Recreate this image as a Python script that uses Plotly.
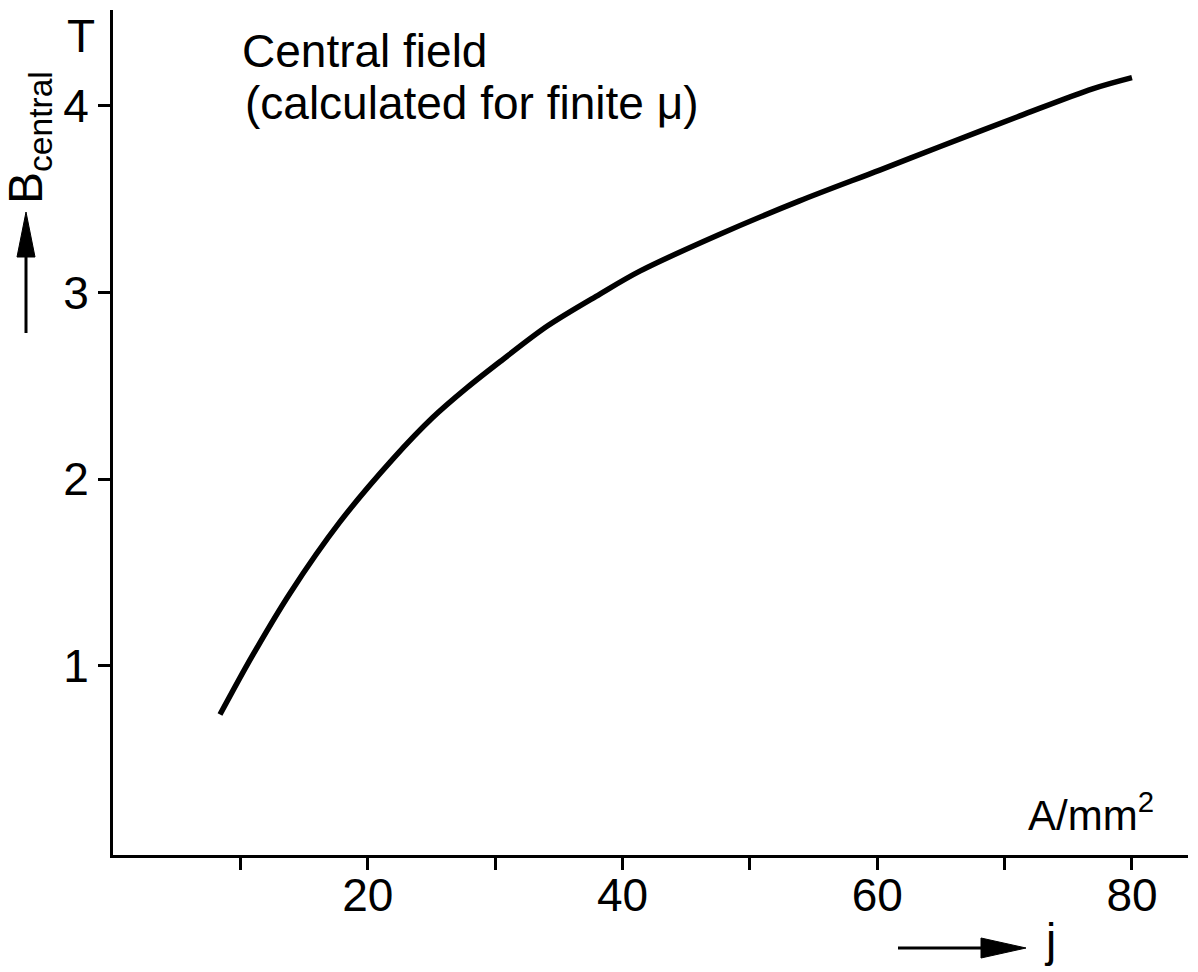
import plotly.graph_objects as go

# Data
current_density = [8.4, 10.9, 13.9, 17.8, 22.0, 25.1, 27.8, 30.4, 34.1, 38.2,
                   41.4, 47.6, 53.9, 60.2, 64.9, 71.2, 76.9, 80.0]   # A/mm^2
b_central = [0.74, 1.05, 1.39, 1.77, 2.11, 2.33, 2.49, 2.63, 2.82, 2.99,
             3.115, 3.31, 3.49, 3.655, 3.78, 3.945, 4.09, 4.15]       # T

x_major_ticks = [20, 40, 60, 80]
x_minor_ticks = [10, 30, 50, 70]
y_tickvals = [1, 2, 3, 4]

W, H = 1198, 972
L, R, T, B = 113, 10, 10, 117
PW, PH = W - L - R, H - T - B


def px(x):
    return (x - L) / PW


def py(y):
    return (H - B - y) / PH


SANS = "Liberation Sans, Arial, sans-serif"

fig = go.Figure()
fig.add_trace(go.Scatter(
    x=current_density, y=b_central, mode="lines",
    line=dict(color="black", width=5.5, shape="spline", smoothing=0.9),
    showlegend=False, hoverinfo="skip",
))

fig.update_layout(
    width=W, height=H,
    margin=dict(l=L, r=R, t=T, b=B, pad=0),
    paper_bgcolor="white", plot_bgcolor="white",
    xaxis=dict(range=[0, 84.4], showgrid=False, zeroline=False,
               showline=True, linecolor="black", linewidth=3,
               ticks="outside", ticklen=12, tickwidth=2.5, tickcolor="black",
               tickvals=x_major_ticks, ticklabelstandoff=-14,
               minor=dict(tickvals=x_minor_ticks, ticks="outside", ticklen=12,
                          tickwidth=2.5, tickcolor="black", showgrid=False),
               tickfont=dict(family=SANS, size=46, color="black")),
    yaxis=dict(range=[-0.012, 4.512], showgrid=False, zeroline=False,
               showline=True, linecolor="black", linewidth=3,
               ticks="outside", ticklen=12, tickwidth=2.5, tickcolor="black",
               tickvals=y_tickvals,
               tickfont=dict(family=SANS, size=46, color="black")),
)

annotations = [
    dict(text="Central field", x=px(240), y=py(51.5), xanchor="left", yanchor="middle",
         font=dict(family=SANS, size=46)),
    dict(text="(calculated for finite \u03bc)", x=px(243), y=py(103.5), xanchor="left",
         yanchor="middle", font=dict(family=SANS, size=46)),
    dict(text="T", x=px(81), y=py(35.5), xanchor="center", yanchor="middle",
         font=dict(family=SANS, size=46)),
    dict(text="B<sub>central</sub>", x=px(29), y=py(138), xanchor="center", yanchor="middle",
         textangle=-90, font=dict(family=SANS, size=48)),
    dict(text="A/mm<sup>2</sup>", x=px(1091), y=py(812), xanchor="center", yanchor="middle",
         font=dict(family=SANS, size=42)),
    dict(text="j", x=px(1050), y=py(940), xanchor="center", yanchor="middle",
         font=dict(family=SANS, size=46)),
]
for a in annotations:
    a.update(xref="paper", yref="paper", showarrow=False)
    a["font"]["color"] = "black"
fig.update_layout(annotations=annotations)

shapes = [
    # vertical arrow beside the y label
    dict(type="line", x0=px(26), x1=px(26), y0=py(333), y1=py(250),
         line=dict(color="black", width=3)),
    dict(type="path",
         path=f"M {px(26)} {py(212)} L {px(17)} {py(257)} L {px(35)} {py(257)} Z",
         fillcolor="black", line=dict(color="black", width=1)),
    # horizontal arrow under the x axis
    dict(type="line", x0=px(898), x1=px(985), y0=py(948), y1=py(948),
         line=dict(color="black", width=3)),
    dict(type="path",
         path=f"M {px(1026)} {py(948)} L {px(981)} {py(938)} L {px(981)} {py(958)} Z",
         fillcolor="black", line=dict(color="black", width=1)),
]
for s in shapes:
    s.update(xref="paper", yref="paper")
fig.update_layout(shapes=shapes)

fig.write_html("out.html")
